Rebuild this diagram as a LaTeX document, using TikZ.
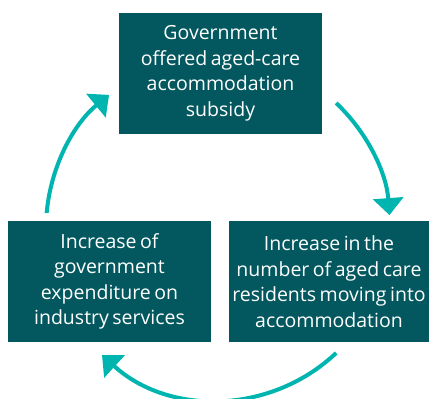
\documentclass[tikz,border=0pt]{standalone}
\usepackage{fontspec}
\setmainfont{Open Sans}[WordSpace=0.7]
\usetikzlibrary{arrows.meta}
\definecolor{boxteal}{RGB}{2,88,94}
\definecolor{arrowteal}{RGB}{0,181,176}
\begin{document}
\begin{tikzpicture}[x=1pt,y=-1pt,
  box/.style={fill=boxteal,text=white,minimum width=203pt,minimum height=121pt,inner sep=0pt,
    align=center,font=\fontsize{19.5}{25.5}\selectfont},
  cyc/.style={draw=arrowteal,line width=4pt,-{Triangle[width=30pt,length=17pt]}}]
\useasboundingbox (0,0) rectangle (429,399);
\node[box] (top) at (220.5,73.5) {Government\\offered aged-care\\accommodation\\subsidy};
\node[box] (left) at (109.5,281.5) {Increase of\\government\\expenditure on\\industry services};
\node[box,minimum width=200pt] (right) at (329,281.5) {Increase in the\\number of aged care\\residents moving into\\accommodation};
\coordinate (c) at (218,228);
\coordinate (s1) at ([shift={(46.6:172pt)}]c);
\coordinate (s2) at ([shift={(-46.6:172pt)}]c);
\coordinate (s3) at ([shift={(175:172pt)}]c);
\draw[cyc] (s1) arc[start angle=-46.6,end angle=-4.3,radius=172];
\draw[cyc] (s2) arc[start angle=46.6,end angle=132.4,radius=172];
\draw[cyc] (s3) arc[start angle=-175,end angle=-129.3,radius=172];
\end{tikzpicture}
\end{document}
